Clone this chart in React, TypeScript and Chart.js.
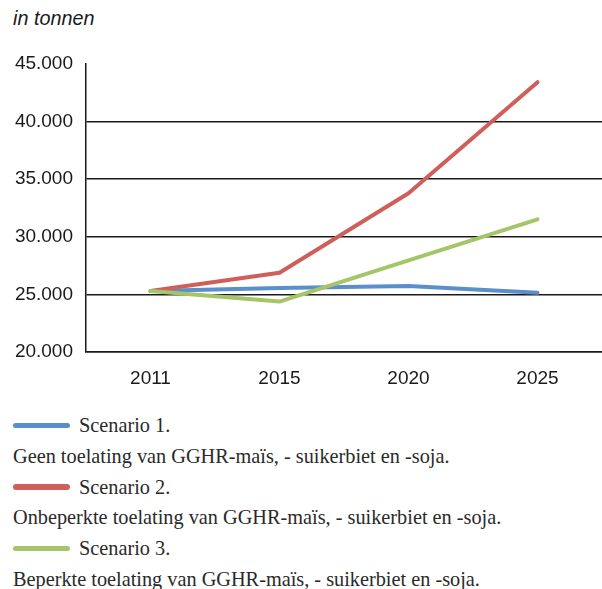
import React, { useEffect, useRef } from "react";
import { Chart, registerables } from "chart.js";

Chart.register(...registerables);

const years = ["2011", "2015", "2020", "2025"];
const scenario1 = [25300, 25550, 25720, 25140];
const scenario2 = [25300, 26880, 33780, 43420];
const scenario3 = [25300, 24380, 27950, 31520];
const yMin = 20000;
const yMax = 45000;
const yStep = 5000;
const unitLabel = "in tonnen";
const seriesNames = ["Scenario 1.", "Scenario 2.", "Scenario 3."];
const seriesDescriptions = [
  "Geen toelating van GGHR-maïs, - suikerbiet en -soja.",
  "Onbeperkte toelating van GGHR-maïs, - suikerbiet en -soja.",
  "Beperkte toelating van GGHR-maïs, - suikerbiet en -soja.",
];
const seriesColors = ["#5B8FCB", "#CF5F5A", "#A6C468"];

const fmt = (v: number) => {
  const s = String(Math.round(v));
  return s.replace(/\B(?=(\d{3})+(?!\d))/g, ".");
};

export default function App() {
  const ref = useRef<HTMLCanvasElement | null>(null);

  useEffect(() => {
    if (!ref.current) return;
    const values = [scenario1, scenario2, scenario3];
    const orders = [2, 1, 0];
    const chart = new Chart(ref.current, {
      type: "line",
      data: {
        labels: years,
        datasets: values.map((d, i) => ({
          label: seriesNames[i],
          data: d,
          borderColor: seriesColors[i],
          backgroundColor: seriesColors[i],
          borderWidth: 4,
          borderCapStyle: "round" as const,
          borderJoinStyle: "round" as const,
          pointRadius: 0,
          pointHoverRadius: 0,
          tension: 0,
          fill: false,
          order: orders[i],
        })),
      },
      options: {
        responsive: false,
        animation: false,
        layout: { padding: { top: 64, right: 0, left: 0, bottom: 0 } },
        plugins: {
          legend: { display: false },
          tooltip: { enabled: false },
          title: { display: false },
        },
        scales: {
          x: {
            type: "category",
            offset: true,
            grid: { display: false, drawTicks: false },
            border: { display: true, color: "#1a1a1a", width: 1.5 },
            ticks: {
              color: "#1a1a1a",
              padding: 15,
              font: { family: "'Liberation Sans', Arial, sans-serif", size: 19 },
              maxRotation: 0,
            },
            afterFit: (scale: any) => {
              scale.height = 48;
            },
          },
          y: {
            type: "linear",
            min: yMin,
            max: yMax,
            grid: {
              drawTicks: false,
              lineWidth: 1.5,
              color: (ctx: any) =>
                ctx.tick && ctx.tick.value === yMax ? "rgba(0,0,0,0)" : "#1a1a1a",
            },
            border: { display: true, color: "#1a1a1a", width: 1.5 },
            ticks: {
              stepSize: yStep,
              color: "#1a1a1a",
              padding: 13,
              font: { family: "'Liberation Sans', Arial, sans-serif", size: 19 },
              callback: (v: any) => fmt(Number(v)),
            },
            afterFit: (scale: any) => {
              scale.width = 86;
            },
          },
        },
      },
    });
    return () => chart.destroy();
  }, []);

  return (
    <div
      style={{
        position: "absolute",
        left: 0,
        top: 0,
        width: 602,
        height: 589,
        overflow: "hidden",
        background: "#fff",
      }}
    >
      <div
        style={{
          position: "absolute",
          left: 13,
          top: 8,
          lineHeight: "20px",
          fontFamily: "'Liberation Sans', Arial, sans-serif",
          fontStyle: "italic",
          fontSize: 19.8,
          color: "#1a1a1a",
        }}
      >
        {unitLabel}
      </div>
      <canvas
        ref={ref}
        width={602}
        height={400}
        style={{ position: "absolute", left: 0, top: 0, width: 602, height: 400 }}
      />
      <div
        style={{
          position: "absolute",
          left: 13,
          top: 410,
          fontFamily: "'Liberation Serif', 'Times New Roman', serif",
          fontSize: 20.3,
          color: "#2a2a2a",
          whiteSpace: "nowrap",
        }}
      >
        {seriesNames.map((name, i) => (
          <React.Fragment key={name}>
            <div style={{ height: 30.8, lineHeight: "30.8px", display: "flex", alignItems: "center" }}>
              <span
                style={{
                  display: "inline-block",
                  width: 57,
                  height: 5.5,
                  borderRadius: 3,
                  background: seriesColors[i],
                  marginRight: 9,
                }}
              />
              <span>{name}</span>
            </div>
            <div style={{ height: 30.8, lineHeight: "30.8px" }}>{seriesDescriptions[i]}</div>
          </React.Fragment>
        ))}
      </div>
    </div>
  );
}
